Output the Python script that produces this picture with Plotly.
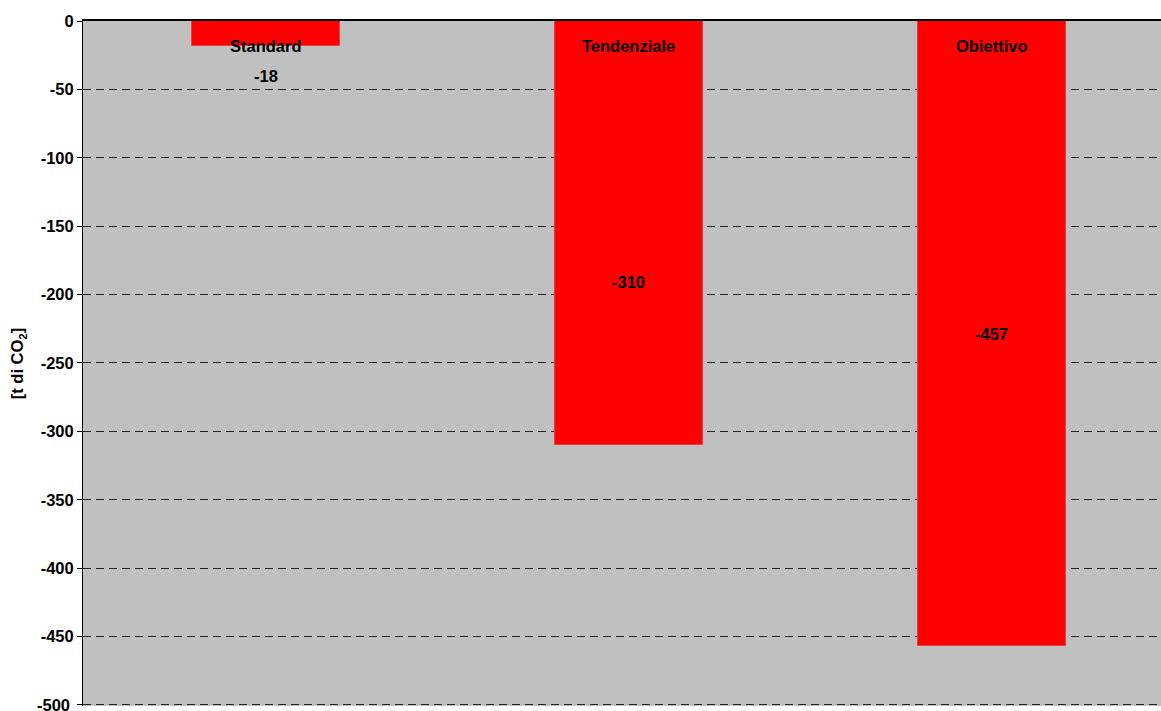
import plotly.graph_objects as go

# Scenario results (tonnes of CO2)
scenarios = ["Standard", "Tendenziale", "Obiettivo"]
values = [-18, -310, -457]
y_ticks = [0, -50, -100, -150, -200, -250, -300, -350, -400, -450, -500]

# vertical placement of the value labels inside/below the bars
value_label_y = [-40, -191, -229]
name_label_y = -18.3

font_bold = dict(family="Liberation Sans, Arial, sans-serif", size=16.5, color="black")

fig = go.Figure()
fig.add_trace(go.Bar(
    x=list(range(len(scenarios))),
    y=values,
    width=0.408,
    marker=dict(color="#FF0000", line=dict(color="#E84040", width=1)),
    hoverinfo="skip",
))

annotations = []
for i, (name, v) in enumerate(zip(scenarios, values)):
    annotations.append(dict(x=i, y=name_label_y, xref="x", yref="y", text=f"<b>{name}</b>",
                            showarrow=False, font=font_bold))
    annotations.append(dict(x=i, y=value_label_y[i], xref="x", yref="y", text=f"<b>{v}</b>",
                            showarrow=False, font=font_bold))

# the lowest tick label sits on the lower edge of the figure, so it is
# placed as an annotation (plotly drops tick labels that overflow the page)
annotations.append(dict(x=0, y=y_ticks[-1], xref="paper", yref="y", text=f"<b>{y_ticks[-1]}</b>",
                        showarrow=False, xanchor="right", yanchor="middle", xshift=-11,
                        font=font_bold))

fig.update_layout(
    width=1161, height=711,
    margin=dict(l=83, r=0, t=21, b=5),
    paper_bgcolor="white",
    plot_bgcolor="#C0C0C0",
    showlegend=False,
    bargap=0,
    annotations=annotations,
    xaxis=dict(
        range=[-0.504, 2.466],
        side="top",
        showticklabels=False,
        showgrid=False,
        zeroline=False,
        showline=True, linecolor="black", linewidth=1.5,
        ticks="",
    ),
    yaxis=dict(
        range=[-500.8, 0],
        tickvals=y_ticks,
        ticktext=[f"<b>{t}</b>" if t != y_ticks[-1] else "" for t in y_ticks],
        tickfont=font_bold,
        showgrid=True, gridcolor="#222222", gridwidth=1, griddash="8px,5px",
        zeroline=False,
        showline=True, linecolor="black", linewidth=1,
        ticks="outside", ticklen=5, tickcolor="black",
        title=dict(text="<b>[t di CO<sub>2</sub>]</b>", font=font_bold, standoff=12),
    ),
)

fig.write_html("out.html")
